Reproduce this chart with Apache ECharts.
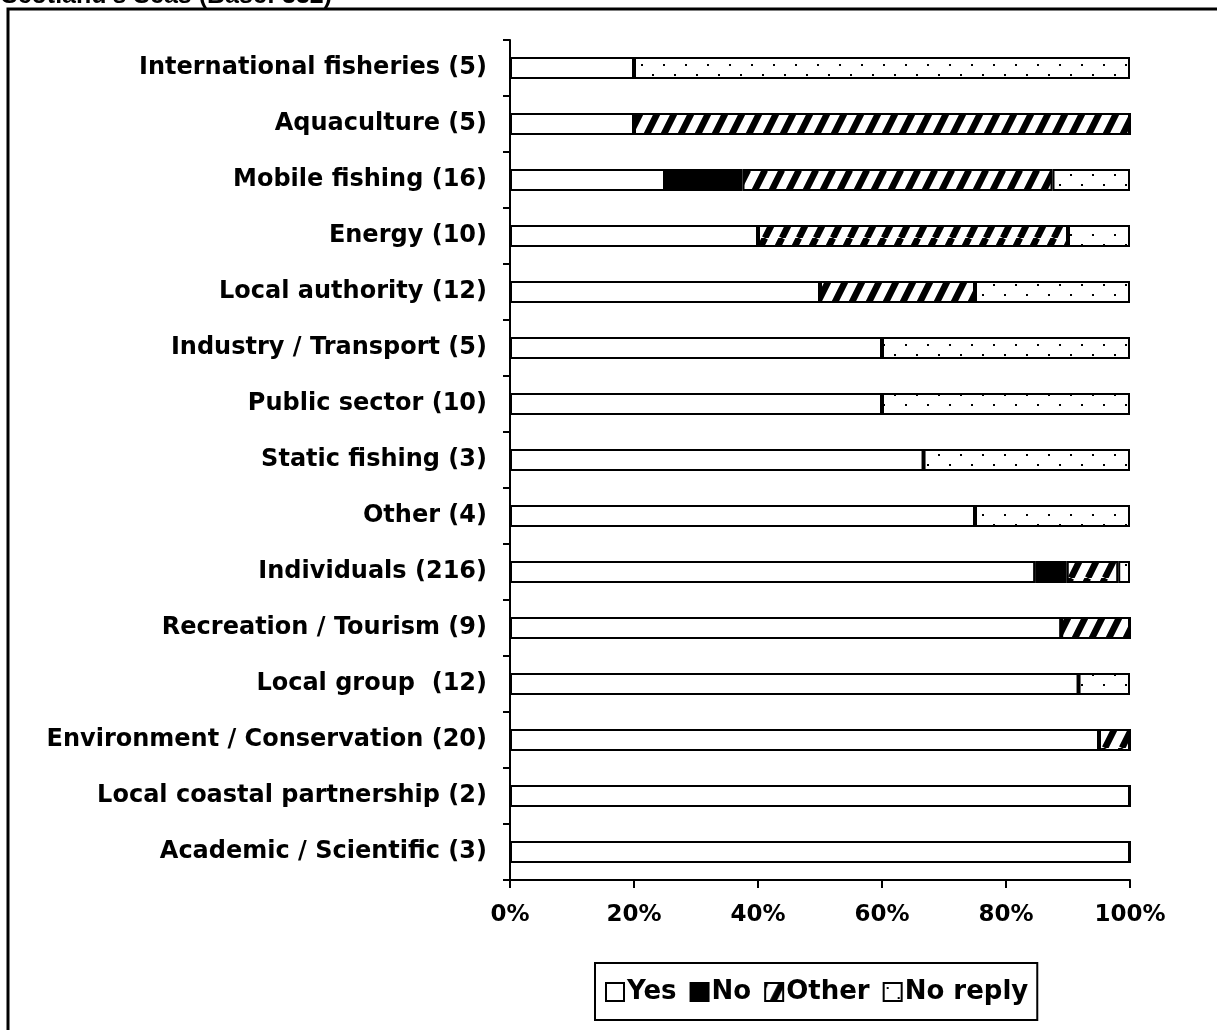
<!DOCTYPE html>
<html>
<head>
<meta charset="utf-8">
<script src="https://cdn.jsdelivr.net/npm/echarts@6/dist/echarts.min.js"></script>
<style>
  html, body { margin: 0; padding: 0; background: #fff; }
  #chart { width: 1217px; height: 1030px; }
</style>
</head>
<body>
<div id="chart"></div>
<script>
const categories = [
  'International fisheries (5)',
  'Aquaculture (5)',
  'Mobile fishing (16)',
  'Energy (10)',
  'Local authority (12)',
  'Industry / Transport (5)',
  'Public sector (10)',
  'Static fishing (3)',
  'Other (4)',
  'Individuals (216)',
  'Recreation / Tourism (9)',
  'Local group  (12)',
  'Environment / Conservation (20)',
  'Local coastal partnership (2)',
  'Academic / Scientific (3)'
];
const yesValues = [20, 20, 25, 40, 50, 60, 60, 66.7, 75, 84.7, 88.9, 91.7, 95, 100, 100];
const noValues = [0, 0, 12.5, 0, 0, 0, 0, 0, 0, 5.1, 0, 0, 0, 0, 0];
const otherValues = [0, 80, 50, 50, 25, 0, 0, 0, 0, 8.3, 11.1, 0, 5, 0, 0];
const noReplyValues = [80, 0, 12.5, 10, 25, 40, 40, 33.3, 25, 1.9, 0, 8.3, 0, 0, 0];
const tickLabels = [0, 20, 40, 60, 80, 100];

const FONT = '"DejaVu Sans", "Liberation Sans", Arial, sans-serif';
const TITLE_FONT = '"Liberation Sans", Arial, sans-serif';

// diagonal hatch for "Other"
function hatchPattern() {
  const w = 17, h = 34;
  const c = document.createElement('canvas');
  c.width = w; c.height = h;
  const ctx = c.getContext('2d');
  ctx.fillStyle = '#fff';
  ctx.fillRect(0, 0, w, h);
  ctx.strokeStyle = '#000';
  ctx.lineWidth = 6.5;
  ctx.beginPath();
  for (let k = -1; k <= 1; k++) {
    ctx.moveTo(k * w, h);
    ctx.lineTo(k * w + w, 0);
  }
  ctx.stroke();
  return c;
}

// sparse dots for "No reply"
function dotPattern() {
  const w = 22, h = 20;
  const c = document.createElement('canvas');
  c.width = w; c.height = h;
  const ctx = c.getContext('2d');
  ctx.fillStyle = '#fff';
  ctx.fillRect(0, 0, w, h);
  ctx.fillStyle = '#000';
  ctx.fillRect(3, 4, 2, 2);
  ctx.fillRect(14, 14, 2, 2);
  return c;
}

const chart = echarts.init(document.getElementById('chart'), null, { renderer: 'canvas' });

function barSeries(name, data, fill) {
  return {
    name,
    type: 'bar',
    stack: 'total',
    barWidth: 22,
    data,
    silent: true,
    itemStyle: { color: fill, borderColor: '#000', borderWidth: 2 }
  };
}

chart.setOption({
  animation: false,
  backgroundColor: '#fff',
  textStyle: { fontFamily: FONT, color: '#000' },
  graphic: [
    {
      type: 'rect',
      shape: { x: 8, y: 9, width: 1240, height: 1100 },
      style: { fill: 'none', stroke: '#000', lineWidth: 3 }
    },
    {
      type: 'text',
      x: 1,
      y: 9,
      style: {
        text: "Scotland's Seas (Base: 332)",
        font: 'bold 25px ' + TITLE_FONT,
        fill: '#000',
        textVerticalAlign: 'bottom'
      }
    }
  ],
  grid: { left: 510, top: 40, width: 620, height: 840, containLabel: false },
  legend: {
    left: 595,
    top: 963,
    data: ['Yes', 'No', 'Other', 'No reply'],
    orient: 'horizontal',
    borderColor: '#000',
    borderWidth: 2,
    padding: [16, 9, 15, 10],
    itemWidth: 18,
    itemHeight: 18,
    itemGap: 13,
    icon: 'rect',
    selectedMode: false,
    textStyle: { fontFamily: FONT, fontWeight: 'bold', fontSize: 26, color: '#000', padding: [0, 0, 0, -2] }
  },
  xAxis: {
    type: 'value',
    min: 0,
    max: 100,
    interval: 20,
    axisLine: { show: true, lineStyle: { color: '#000', width: 2 } },
    axisTick: { show: true, length: 8, lineStyle: { color: '#000', width: 2 } },
    splitLine: { show: false },
    axisLabel: {
      margin: 24,
      fontFamily: FONT,
      fontWeight: 'bold',
      fontSize: 23,
      color: '#000',
      formatter: (v) => (tickLabels.includes(v) ? v + '%' : '')
    }
  },
  yAxis: {
    type: 'category',
    inverse: true,
    data: categories,
    axisLine: { show: true, lineStyle: { color: '#000', width: 2 } },
    axisTick: { show: true, length: 7, alignWithLabel: false, lineStyle: { color: '#000', width: 2 } },
    axisLabel: {
      margin: 23,
      fontFamily: FONT,
      fontWeight: 'bold',
      fontSize: 24,
      color: '#000'
    }
  },
  series: [
    barSeries('Yes', yesValues, '#fff'),
    barSeries('No', noValues, '#000'),
    barSeries('Other', otherValues, { image: hatchPattern(), repeat: 'repeat' }),
    barSeries('No reply', noReplyValues, { image: dotPattern(), repeat: 'repeat' })
  ]
});
</script>
</body>
</html>
